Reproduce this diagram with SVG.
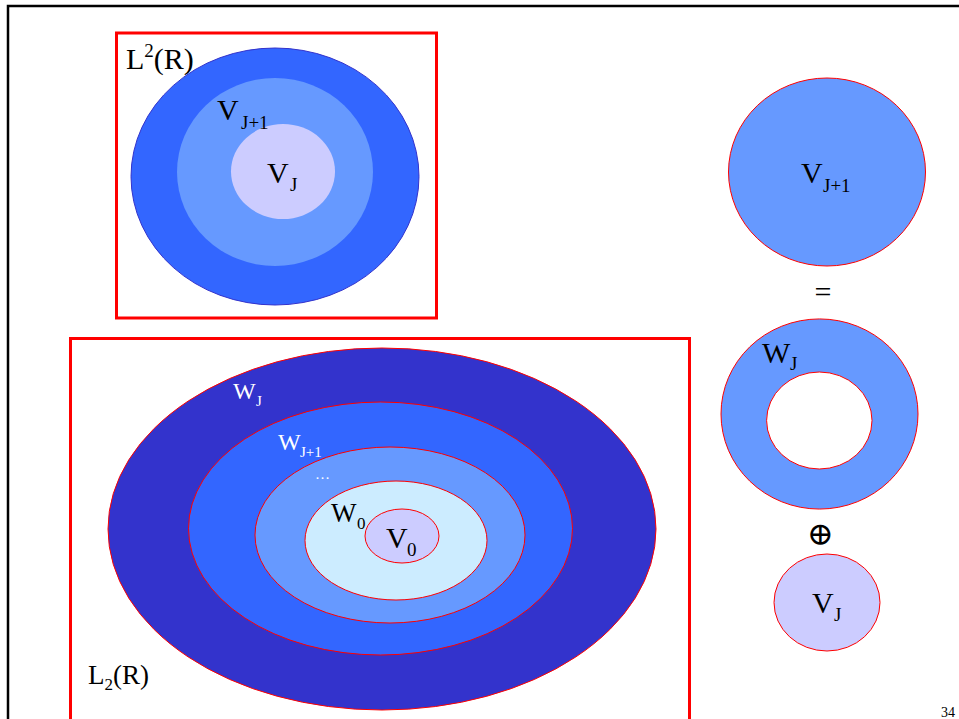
<svg xmlns="http://www.w3.org/2000/svg" width="959" height="719" viewBox="0 0 959 719">
<style>
text{font-family:"Liberation Serif","Times New Roman",serif;fill:#000}
.m{font-size:30px}
.s{font-size:19px}
.wm{font-size:24px;fill:#fff}
.ws{font-size:15px;fill:#fff}
.frame{fill:none;stroke:#FF0000;stroke-width:3}
.rl{stroke:#FF0000;stroke-width:1}
</style>
<rect width="959" height="719" fill="#fff"/>
<path d="M8,719 V6 H959" fill="none" stroke="#000" stroke-width="2.5"/>

<g id="top-left">
<rect class="frame" x="116.5" y="33" width="320" height="285"/>
<ellipse cx="275" cy="176.5" rx="144" ry="128.5" fill="#3366FF" stroke="#3333CC" stroke-width="1"/>
<ellipse cx="275" cy="172" rx="98" ry="94" fill="#6699FF"/>
<ellipse cx="283" cy="171.5" rx="52" ry="47.5" fill="#CCCCFF"/>
<text class="m" x="126" y="69">L<tspan font-size="19" dy="-12">2</tspan><tspan dy="12">(R)</tspan></text>
<text class="m" x="217" y="120">V</text><text class="s" x="241" y="129">J+1</text>
<text class="m" x="267" y="183">V</text><text class="s" x="290" y="191">J</text>
</g>

<g id="bottom-left">
<rect class="frame" x="70.5" y="338.5" width="619" height="390"/>
<ellipse class="rl" cx="382" cy="529" rx="274" ry="181" fill="#3333CC"/>
<ellipse class="rl" cx="380.5" cy="528.5" rx="192" ry="126.5" fill="#3366FF"/>
<ellipse class="rl" cx="390" cy="535" rx="135" ry="88" fill="#6699FF"/>
<ellipse class="rl" cx="396" cy="540.5" rx="91" ry="59.5" fill="#CCECFF"/>
<ellipse class="rl" cx="402" cy="536" rx="37" ry="27" fill="#CCCCFF"/>
<text class="wm" x="233" y="399">W</text><text class="ws" x="256" y="406">J</text>
<text class="wm" x="278" y="450">W</text><text class="ws" x="300" y="457">J+1</text>
<text class="ws" x="315" y="479" font-size="20">…</text>
<text x="331" y="522" font-size="27">W</text><text x="357" y="529" font-size="17">0</text>
<text x="386" y="548" font-size="30">V</text><text x="407" y="556" font-size="19">0</text>
<text x="88" y="684" font-size="27">L<tspan font-size="17" dy="6">2</tspan><tspan dy="-6">(R)</tspan></text>
</g>

<g id="right-vj1">
<ellipse class="rl" cx="827" cy="172" rx="98.5" ry="94" fill="#6699FF"/>
<text class="m" x="801" y="183">V</text><text class="s" x="823" y="192">J+1</text>
</g>

<g id="equals">
<text class="m" x="823" y="302" text-anchor="middle">=</text>
</g>

<g id="right-wj">
<path class="rl" fill="#6699FF" fill-rule="evenodd" d="M721,414 a98.5,95 0 1,0 197,0 a98.5,95 0 1,0 -197,0 Z M766.6,420.5 a52.7,48.5 0 1,0 105.4,0 a52.7,48.5 0 1,0 -105.4,0 Z"/>
<text class="m" x="762" y="363">W</text><text class="s" x="790" y="370">J</text>
</g>

<g id="oplus">
<text x="820.5" y="545" font-size="32" text-anchor="middle" style="font-family:'DejaVu Serif','Liberation Serif',serif">⊕</text>
</g>

<g id="right-vj">
<ellipse class="rl" cx="827" cy="602.5" rx="53" ry="48.5" fill="#CCCCFF"/>
<text class="m" x="812" y="613">V</text><text class="s" x="834" y="621">J</text>
</g>

<text x="941" y="717" font-size="14">34</text>
<g id="connectors"/>
</svg>
